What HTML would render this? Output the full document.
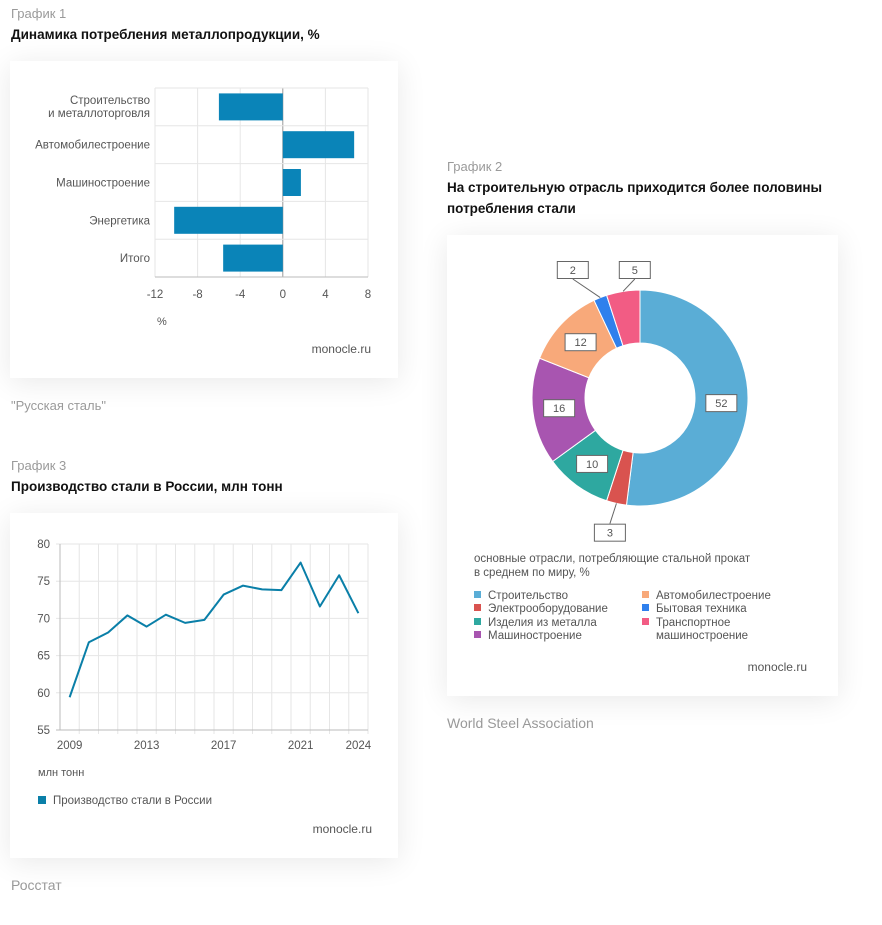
<!DOCTYPE html>
<html><head><meta charset="utf-8">
<style>
html,body{margin:0;padding:0;background:#fff;width:882px;height:925px;overflow:hidden;font-family:"Liberation Sans","Noto Sans CJK SC",sans-serif;}
.card{position:absolute;background:#fff;box-shadow:0 4px 28px rgba(0,0,0,0.09);}
svg{position:absolute;left:0;top:0;}
</style></head><body>
<div class="card" style="left:10px;top:61px;width:388px;height:317px"></div>
<div class="card" style="left:447px;top:235px;width:391px;height:461px"></div>
<div class="card" style="left:10px;top:513px;width:388px;height:345px"></div>
<svg id="s" width="882" height="925" xmlns="http://www.w3.org/2000/svg" font-family="Liberation Sans, sans-serif">
<g>
<text x="11" y="18" font-size="13" fill="#9a9a9a">График 1</text>
<text x="11" y="39" font-size="13.5" font-weight="bold" fill="#111">Динамика потребления металлопродукции, %</text>
</g>
<g id="c1"></g>
<text x="371" y="353" font-size="12" fill="#555" text-anchor="end">monocle.ru</text>
<text x="157" y="325" font-size="11" fill="#555">%</text>
<text x="11" y="410" font-size="13" fill="#9a9a9a">"Русская сталь"</text>

<g>
<text x="447" y="171" font-size="13" fill="#9a9a9a">График 2</text>
<text x="447" y="192" font-size="13.5" font-weight="bold" fill="#111">На строительную отрасль приходится более половины</text>
<text x="447" y="213" font-size="13.5" font-weight="bold" fill="#111">потребления стали</text>
</g>
<g id="c2"></g>
<g font-size="11.5" fill="#555">
<text x="474" y="562">основные отрасли, потребляющие стальной прокат</text>
<text x="474" y="576">в среднем по миру, %</text>
</g>
<g id="leg2" font-size="11.5" fill="#555"></g>
<text x="807" y="671" font-size="12" fill="#555" text-anchor="end">monocle.ru</text>
<text x="447" y="728" font-size="14" fill="#999">World Steel Association</text>

<g>
<text x="11" y="470" font-size="13" fill="#9a9a9a">График 3</text>
<text x="11" y="491" font-size="13.5" font-weight="bold" fill="#111">Производство стали в России, млн тонн</text>
</g>
<g id="c3"></g>
<text x="38" y="776" font-size="11" fill="#555">млн тонн</text>
<rect x="38" y="796" width="8" height="8" fill="#0a7fa8"/>
<text x="53" y="804" font-size="11.5" fill="#555">Производство стали в России</text>
<text x="372" y="833" font-size="12" fill="#555" text-anchor="end">monocle.ru</text>
<text x="11" y="890" font-size="14" fill="#999">Росстат</text>
</svg>
<script>
const NS="http://www.w3.org/2000/svg";
function mk(parent,tag,attrs,txt){const e=document.createElementNS(NS,tag);for(const k in attrs)e.setAttribute(k,attrs[k]);if(txt!==undefined)e.textContent=txt;parent.appendChild(e);return e;}

// ---------- Chart 1 data ----------
const c1Categories=[["Строительство","и металлоторговля"],["Автомобилестроение"],["Машиностроение"],["Энергетика"],["Итого"]];
const c1Values=[-6,6.7,1.7,-10.2,-5.6];
const c1Ticks=[-12,-8,-4,0,4,8];
// ---------- Chart 2 data ----------
const c2Labels=["Строительство","Электрооборудование","Изделия из металла","Машиностроение","Автомобилестроение","Бытовая техника","Транспортное машиностроение"];
const c2Values=[52,3,10,16,12,2,5];
const c2Colors=["#5aadd6","#d9534f","#2ea8a0","#a855b0","#f8a97a","#2f80ed","#f25c84"];
// ---------- Chart 3 data ----------
const c3Years=[2009,2010,2011,2012,2013,2014,2015,2016,2017,2018,2019,2020,2021,2022,2023,2024];
const c3Values=[59.4,66.8,68.1,70.4,68.9,70.5,69.4,69.8,73.2,74.4,73.9,73.8,77.5,71.6,75.8,70.7];
const c3YTicks=[55,60,65,70,75,80];
const c3XTickLabels=[2009,2013,2017,2021,2024];

// Chart 1
(function(){
  const g=document.getElementById('c1');
  const x0=155,x1=368,top=88,bot=277;
  const xs=v=>x0+(v-c1Ticks[0])/(c1Ticks[c1Ticks.length-1]-c1Ticks[0])*(x1-x0);
  const band=(bot-top)/c1Categories.length;
  c1Ticks.forEach(t=>{
    const l=mk(g,'line',{x1:xs(t),x2:xs(t),y1:top,y2:bot,stroke:t===0?'#999':'#e6e6e6','stroke-width':1});
    
    
    const tx=mk(g,'text',{x:xs(t),y:298,'font-size':11.5,fill:'#555','text-anchor':'middle'},String(t));
    
    
  });
  for(let i=0;i<=c1Categories.length;i++){
    const l=mk(g,'line',{x1:x0,x2:x1,y1:top+i*band,y2:top+i*band,stroke:i===c1Categories.length?'#bbb':'#e6e6e6','stroke-width':1});
    
    
  }
  c1Categories.forEach((c,i)=>{
    const cy=top+band*(i+0.5);
    const v=c1Values[i];
    const r=mk(g,'rect',{x:Math.min(xs(0),xs(v)),y:cy-13.5,width:Math.abs(xs(v)-xs(0)),height:27,fill:'#0a84b8'});
    
    
    const y0=c.length===1?cy+4:cy-3;
    c.forEach((line,j)=>{
      const t=mk(g,'text',{x:150,y:y0+j*13,'font-size':11.5,fill:'#555','text-anchor':'end'},line);
      
      
    });
  });
})();

// Chart 2
(function(){
  const g=document.getElementById('c2');
  const cx=640,cy=398,R=108,r=55;
  const total=c2Values.reduce((a,b)=>a+b,0);
  const pt=(a,rad)=>[cx+rad*Math.sin(a),cy-rad*Math.cos(a)];
  let acc=0;
  const labels=[];
  c2Values.forEach((v,i)=>{
    const a0=acc/total*2*Math.PI;acc+=v;const a1=acc/total*2*Math.PI;
    const lg=(a1-a0)>Math.PI?1:0;
    const p0=pt(a0,R),p1=pt(a1,R),q1=pt(a1,r),q0=pt(a0,r);
    const p=mk(g,'path',{d:`M${p0[0]},${p0[1]}A${R},${R} 0 ${lg} 1 ${p1[0]},${p1[1]}L${q1[0]},${q1[1]}A${r},${r} 0 ${lg} 0 ${q0[0]},${q0[1]}Z`,fill:c2Colors[i],stroke:'#fff','stroke-width':1});
    
    
    const am=(a0+a1)/2;
    if(v>=8){const [lx,ly]=pt(am,(R+r)/2);labels.push({v,lx,ly,out:false});}
    else{
      const e=pt(am,R);let [lx,ly]=pt(am,138);
      const top=ly<cy; if(top)ly=270;
      labels.push({v,lx,ly,out:true,e,top});
    }
  });
  // spread top outside labels apart
  const tops=labels.filter(l=>l.out&&l.top).sort((a,b)=>a.lx-b.lx);
  for(let k=1;k<tops.length;k++){
    const d=tops[k].lx-tops[k-1].lx;
    if(d<62){const s=(62-d)/2;tops[k-1].lx-=s;tops[k].lx+=s;}
  }
  labels.forEach(L=>{
    if(L.out){
      const ln=mk(g,'line',{x1:L.e[0],y1:L.e[1],x2:L.lx,y2:L.ly+(L.top?9:-9),stroke:'#666','stroke-width':1});
      
      
    }
    const b=mk(g,'rect',{x:L.lx-15.5,y:L.ly-8.5,width:31,height:17,fill:'#fff',stroke:'#666','stroke-width':1});
    
    
    const t=mk(g,'text',{x:L.lx,y:L.ly+4,'font-size':11,fill:'#555','text-anchor':'middle'},String(L.v));
    
    
  });
  const lg=document.getElementById('leg2');
  const rows=[[0,599],[1,612],[2,626],[3,639]];
  const cols=[[4,599],[5,612],[6,626]];
  rows.forEach(([i,y])=>{
    const s=mk(lg,'rect',{x:474,y:y-8,width:7,height:7,fill:c2Colors[i]});
    
    
    const t=mk(lg,'text',{x:488,y:y},c2Labels[i]);
    
    
  });
  cols.forEach(([i,y])=>{
    const s=mk(lg,'rect',{x:642,y:y-8,width:7,height:7,fill:c2Colors[i]});
    
    
    const words=c2Labels[i].split(' ');
    const t=mk(lg,'text',{x:656,y:y},words[0]);
    
    
    if(words.length>1 && i===6){
      const t2=mk(lg,'text',{x:656,y:y+13},words.slice(1).join(' '));
      
      
    } else if(words.length>1){t.textContent=c2Labels[i];}
  });
})();

// Chart 3
(function(){
  const g=document.getElementById('c3');
  const x0=60,x1=368,top=544,bot=730;
  const n=c3Years.length,bw=(x1-x0)/n;
  const xs=i=>x0+bw*(i+0.5);
  const ymin=c3YTicks[0],ymax=c3YTicks[c3YTicks.length-1];
  const ys=v=>bot-(v-ymin)/(ymax-ymin)*(bot-top);
  for(let i=0;i<=n;i++){
    const l=mk(g,'line',{x1:x0+bw*i,x2:x0+bw*i,y1:top,y2:bot+(i>0?4:0),stroke:'#e6e6e6','stroke-width':1});
    
    
  }
  c3YTicks.forEach(t=>{
    const l=mk(g,'line',{x1:x0-4,x2:x1,y1:ys(t),y2:ys(t),stroke:t===ymin?'#bbb':'#e6e6e6','stroke-width':1});
    
    
    const tx=mk(g,'text',{x:50,y:ys(t)+4,'font-size':11.5,fill:'#555','text-anchor':'end'},String(t));
    
    
  });
  const ax=mk(g,'line',{x1:x0,x2:x0,y1:top,y2:bot,stroke:'#bbb','stroke-width':1});
  
  
  c3XTickLabels.forEach(y=>{
    const i=c3Years.indexOf(y);
    const tx=mk(g,'text',{x:xs(i),y:749,'font-size':11.5,fill:'#555','text-anchor':'middle'},String(y));
    
    
  });
  const d=c3Values.map((v,i)=>(i?'L':'M')+xs(i)+','+ys(v)).join('');
  const p=mk(g,'path',{d:d,fill:'none',stroke:'#0a7fa8','stroke-width':2,'stroke-linejoin':'round'});
  
  
})();
</script>
</body></html>
